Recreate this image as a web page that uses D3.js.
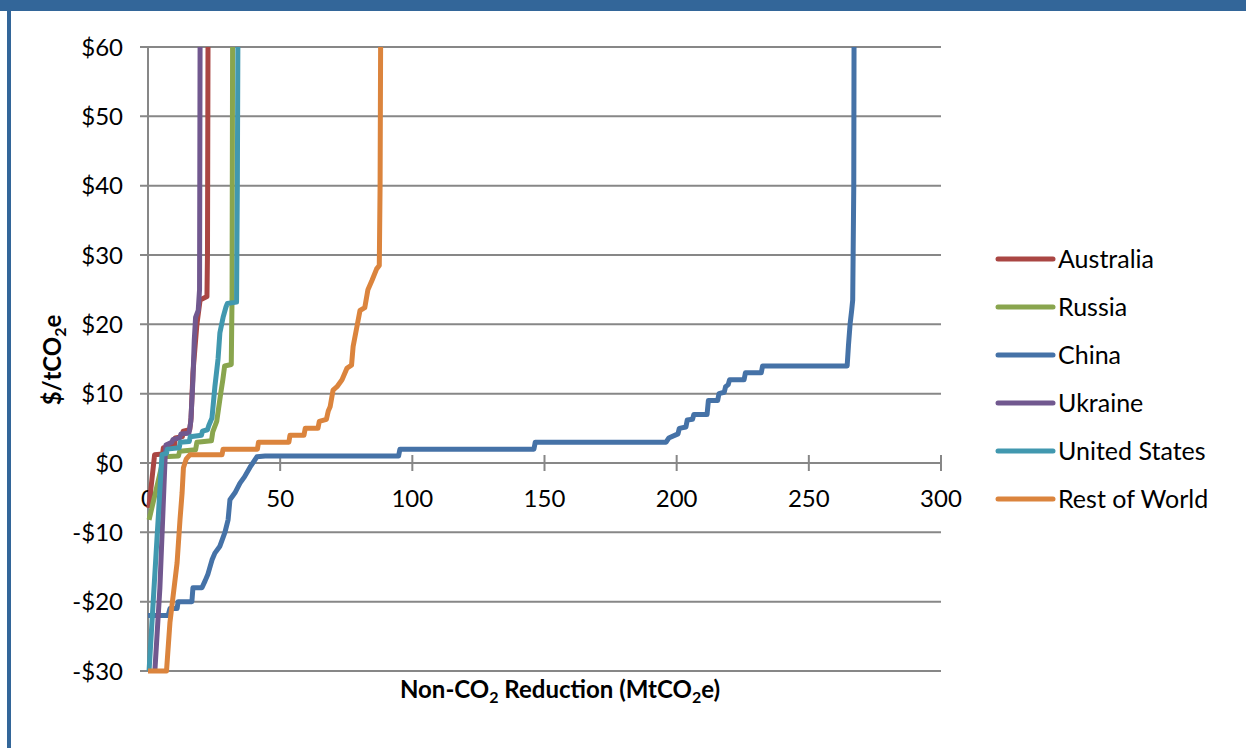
<!DOCTYPE html>
<html>
<head>
<meta charset="utf-8">
<script src="https://cdn.jsdelivr.net/npm/d3@7"></script>
<style>
  body { margin: 0; background: #fff; }
  svg { display: block; font-family: Lato, "Open Sans", sans-serif; }
</style>
</head>
<body>
<div id="chart"></div>
<script>
// Marginal abatement curves: [reduction MtCO2e, price $/tCO2e]
var australia = [[0.3,-6.5],[2.5,1.2],[5.5,1.3],[5.8,2.2],[10,2.4],[10.3,3.6],[13,3.8],[13.3,4.6],[15.8,4.8],[16.3,6.5],[17,13],[18.5,20],[19.7,23.5],[22.3,24],[22.5,30],[22.7,60]];
var russia = [[0.4,-8.2],[6,0.9],[11.5,1],[12,1.7],[18,1.9],[18.5,3],[24,3.2],[24.5,4.5],[26,6],[27.5,10],[28.3,12],[29,14],[31.5,14.2],[31.8,24],[32,60]];
var china = [[0,-22],[7.6,-22],[8.3,-21],[11,-21],[11.4,-20],[16.6,-20],[17,-18],[20.4,-18],[21.6,-17],[22.7,-16],[24.2,-14],[25.3,-13],[27.2,-12],[29.1,-10],[30.3,-8.2],[31,-5.3],[32.9,-4.3],[34.8,-2.9],[36.5,-2],[38.6,-0.6],[41.2,0.9],[44.3,1],[94.8,1],[95.3,2],[146,2],[146.5,3],[196,3],[197,3.6],[200.5,4.2],[201,5],[203.5,5.2],[204,6.2],[206,6.3],[206.5,7],[211.5,7],[212,9],[215.5,9],[216,10],[218,10.2],[218.5,11],[219.5,11.3],[220,12],[225.5,12],[226,13],[232,13],[232.5,14],[264.5,14],[265,17],[265.6,20],[266.2,22],[266.6,23.5],[267,40],[267.1,60]];
var ukraine = [[2.6,-30],[4.5,-18],[6.5,1],[6.8,2.6],[9,3],[9.5,3.4],[12,3.6],[12.5,4.2],[15.5,4.3],[16.2,6],[17,12],[17.5,17.7],[18,21],[19,22],[19.5,25],[19.7,60]];
var unitedStates = [[0.4,-30],[5.3,1.2],[7,1.4],[7.3,2],[11.8,2.2],[12.2,3],[15.6,3.1],[16,3.8],[20.2,4],[20.6,4.6],[22.5,4.8],[23,5.4],[24.2,6.5],[25.3,11],[26.5,15],[27.2,18.8],[28.4,21],[29.5,22.5],[30,23],[33.5,23.2],[33.8,40],[34,60]];
var restOfWorld = [[0,-30],[7,-30],[8.3,-23],[11,-14.4],[12.1,-8.2],[12.9,-4.3],[13.4,-0.7],[14.5,0.6],[15.9,1.2],[28,1.2],[28.4,2],[41.4,2],[41.8,3],[53.3,3],[53.7,4],[59,4],[59.5,5],[64.3,5],[64.8,6],[67.5,6.3],[68.2,7.5],[68.9,8.1],[70,10.5],[71.5,11],[73.4,12],[75.3,13.7],[77,14.1],[77.6,16.8],[79,19.6],[80.2,22],[82,22.4],[83.2,25],[84.8,26.4],[86.5,28],[87.5,28.5],[87.8,40],[88,60]];

var seriesNames = ["Australia", "Russia", "China", "Ukraine", "United States", "Rest of World"];
var seriesData = [australia, russia, china, ukraine, unitedStates, restOfWorld];
var seriesColors = ["#AA4643", "#89A54E", "#4572A7", "#71588F", "#4198AF", "#DB843D"];

var xTicks = [0, 50, 100, 150, 200, 250, 300];
var yTicks = [-30, -20, -10, 0, 10, 20, 30, 40, 50, 60];

var W = 1246, H = 748;
var plot = { left: 148, right: 941, top: 47, bottom: 671 };

var svg = d3.select("#chart").append("svg")
    .attr("width", W)
    .attr("height", H);

// blue frame (top bar + left bar)
svg.append("rect").attr("x", 0).attr("y", 0).attr("width", W).attr("height", 11).attr("fill", "#336699");
svg.append("rect").attr("x", 7).attr("y", 0).attr("width", 4).attr("height", H).attr("fill", "#336699");

var x = d3.scaleLinear().domain([0, 300]).range([plot.left, plot.right]);
var y = d3.scaleLinear().domain([-30, 60]).range([plot.bottom, plot.top]);

var gridColor = "#878787";

// horizontal gridlines (extend left as tick marks)
svg.append("g").selectAll("line")
    .data(yTicks)
    .enter().append("line")
    .attr("x1", plot.left - 8)
    .attr("x2", plot.right)
    .attr("y1", function(d) { return y(d); })
    .attr("y2", function(d) { return y(d); })
    .attr("stroke", gridColor)
    .attr("stroke-width", 2);

// vertical axis line
svg.append("line")
    .attr("x1", plot.left).attr("x2", plot.left)
    .attr("y1", plot.top).attr("y2", plot.bottom)
    .attr("stroke", gridColor).attr("stroke-width", 2);

// x tick marks crossing the $0 axis
svg.append("g").selectAll("line")
    .data(xTicks)
    .enter().append("line")
    .attr("x1", function(d) { return x(d); })
    .attr("x2", function(d) { return x(d); })
    .attr("y1", y(0) - 8)
    .attr("y2", y(0) + 8)
    .attr("stroke", gridColor)
    .attr("stroke-width", 2);

// y tick labels
svg.append("g").selectAll("text")
    .data(yTicks)
    .enter().append("text")
    .attr("x", 123)
    .attr("y", function(d) { return y(d); })
    .attr("dy", "0.36em")
    .attr("text-anchor", "end")
    .attr("font-size", 24)
    .attr("fill", "#000")
    .text(function(d) { return d < 0 ? "-$" + Math.abs(d) : "$" + d; });

// x tick labels
svg.append("g").selectAll("text")
    .data(xTicks)
    .enter().append("text")
    .attr("x", function(d) { return x(d); })
    .attr("y", 507)
    .attr("text-anchor", "middle")
    .attr("font-size", 24)
    .attr("fill", "#000")
    .text(function(d) { return d; });

// lines
var line = d3.line()
    .x(function(d) { return x(d[0]); })
    .y(function(d) { return y(d[1]); });

svg.append("g").selectAll("path")
    .data(seriesData)
    .enter().append("path")
    .attr("d", line)
    .attr("fill", "none")
    .attr("stroke", function(d, i) { return seriesColors[i]; })
    .attr("stroke-width", 5)
    .attr("stroke-linejoin", "round")
    .attr("stroke-linecap", "butt");

// axis titles
var xt = svg.append("text")
    .attr("x", 560)
    .attr("y", 698)
    .attr("text-anchor", "middle")
    .attr("font-size", 24)
    .attr("font-weight", "bold")
    .attr("fill", "#000");
xt.append("tspan").text("Non-CO");
xt.append("tspan").attr("font-size", 16).attr("dy", 5).text("2");
xt.append("tspan").attr("dy", -5).text(" Reduction (MtCO");
xt.append("tspan").attr("font-size", 16).attr("dy", 5).text("2");
xt.append("tspan").attr("dy", -5).text("e)");

var yt = svg.append("text")
    .attr("transform", "translate(61,360) rotate(-90)")
    .attr("text-anchor", "middle")
    .attr("font-size", 24)
    .attr("font-weight", "bold")
    .attr("fill", "#000");
yt.append("tspan").text("$/tCO");
yt.append("tspan").attr("font-size", 16).attr("dy", 5).text("2");
yt.append("tspan").attr("dy", -5).text("e");

// legend
var legend = svg.append("g").selectAll("g")
    .data(seriesNames)
    .enter().append("g")
    .attr("transform", function(d, i) { return "translate(998," + (259 + i * 48) + ")"; });

legend.append("line")
    .attr("x1", 0).attr("x2", 55)
    .attr("y1", 0).attr("y2", 0)
    .attr("stroke", function(d, i) { return seriesColors[i]; })
    .attr("stroke-width", 5)
    .attr("stroke-linecap", "round");

legend.append("text")
    .attr("x", 60)
    .attr("y", 0)
    .attr("dy", "0.36em")
    .attr("font-size", 25)
    .attr("fill", "#000")
    .text(function(d) { return d; });
</script>
</body>
</html>
